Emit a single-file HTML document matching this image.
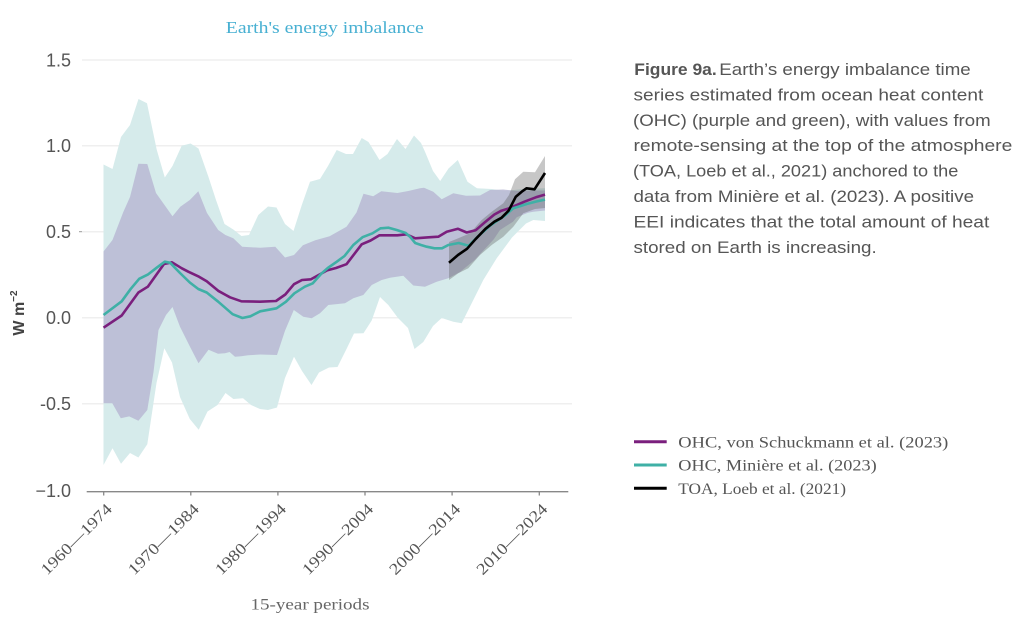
<!DOCTYPE html>
<html><head><meta charset="utf-8"><style>
html,body{margin:0;padding:0;background:#fff;}
svg{display:block;}
</style></head><body>
<svg width="1024" height="626" viewBox="0 0 1024 626" xmlns="http://www.w3.org/2000/svg">
<rect width="1024" height="626" fill="#ffffff"/>
<!-- title -->
<text x="324.8" y="33" text-anchor="middle" font-family="Liberation Serif, serif" font-size="17" fill="#48b0d2" textLength="198" lengthAdjust="spacingAndGlyphs">Earth's energy imbalance</text>
<!-- gridlines -->
<g stroke="#efefef" stroke-width="1.5">
<line x1="82" y1="60" x2="572" y2="60"/>
<line x1="82" y1="145.7" x2="572" y2="145.7"/>
<line x1="82" y1="231.7" x2="572" y2="231.7"/>
<line x1="82" y1="317.7" x2="572" y2="317.7"/>
<line x1="82" y1="403.7" x2="572" y2="403.7"/>
</g>
<line x1="79" y1="231.7" x2="82" y2="231.7" stroke="#999" stroke-width="1"/>
<!-- y tick labels -->
<g font-family="Liberation Sans, sans-serif" font-size="18" fill="#555" text-anchor="end">
<text x="71" y="66.5">1.5</text>
<text x="71" y="152">1.0</text>
<text x="71" y="238">0.5</text>
<text x="71" y="324">0.0</text>
<text x="71" y="410">-0.5</text>
<text x="71" y="497">−1.0</text>
</g>
<!-- y axis title -->
<text transform="translate(24,313) rotate(-90)" text-anchor="middle" font-family="Liberation Sans, sans-serif" font-size="16" font-weight="bold" fill="#444">W m<tspan font-size="10" dy="-7">−2</tspan></text>
<!-- green band -->
<polygon fill="#d6ebeb" points="103.5,164.5 112.5,169 121,137 130,125 138.5,99 147,103.3 156.8,150 164.8,177.5 172.5,166 181.7,145.7 190.5,143.5 198.5,148.5 208.5,177 216,200 224.5,224 233.3,229.5 241.5,236 249,235 258.3,215 268,206.5 276.5,207.5 285,224 293.5,231 301.8,205 310,181.7 320,179 328,166 336.7,150 346,154 353,154 361.7,138 368.5,142 379.5,160 387.5,154 397,139 405.5,149 414,135.5 421,143 425,151.7 433,171 440.2,181 448.5,168.5 457.8,160 467.5,181.7 477,188.3 491.8,189 505,191 520.6,189.3 535.9,188.5 545,188.3 545,221 533.3,220 526,223.5 512,237.5 496.7,258.3 483.3,280 471.7,303.3 461.7,323.3 453.3,321.7 441.7,318 433,326 423.3,342 414.5,349 408,328 398,318 388.3,305 380,297 371.7,320.5 363.5,333.3 354,333.5 346.5,349 337.5,367 329,367.5 319,372.5 311.5,385 302,371 294,356.7 285,378 277,407.5 268,410 260,409 251,405 243,398.3 233.4,399 225.5,393 217.5,405 207.5,411.5 198.7,429.7 189.8,419 180,397 172,362.5 164.3,348.3 156.5,383 147.3,444.2 138.4,457.5 130,453 121,463.7 112.5,448.3 103.5,465"/>
<!-- purple band -->
<polygon fill="#b9b9d4" fill-opacity="0.85" points="103.5,251.5 112.5,240 123.3,212 130,197 138.4,163.7 147.3,164 156,193 172.5,216.3 180.3,206.7 189.8,200 198.3,191.3 207,213 218.2,230 225.4,235 233.3,238.3 242.2,246.7 260.2,247.8 275.3,246.7 285,257.5 294,255 302.9,245.2 315.3,240.3 329.6,236.3 346.5,226.7 356.5,212.5 363.5,193.7 373.2,196.3 381.3,191.2 397.4,193 408.3,191 420,188.3 424,187.8 433.3,191.7 441.7,199.3 453.3,193.3 466,195.8 480,195.5 490,190 503.3,189.5 516.7,191 533.3,190.5 545,190.5 545,210.5 533.3,211.7 528,212.7 516.7,217.3 513,221.7 500,230 493.8,239.3 474.6,260 460,272 448.3,278.3 436.7,281.7 425,286.7 413.3,285.5 403.3,275.7 390,277.7 381.7,280 371.7,285 363.3,295 353.3,298.3 345,303.3 328.3,305 320,313.3 311.7,318.3 303.3,316.7 293.8,310 285,330.8 277,355 260.2,354.5 248.3,355.3 241.1,356.3 235,356.7 229.6,352 225,353.3 218,353.8 208.5,349.7 198.5,363.3 190,346.7 180,326.7 172.5,307 166,315 158.5,330 153.5,372 147.3,410 138.4,420.8 129.2,416.4 120.8,418.3 112.3,403.3 103.5,403.3"/>
<!-- gray TOA band -->
<polygon fill="#555" fill-opacity="0.33" points="449,242 458.3,238.3 470,233.3 481.7,220 491.7,211.7 503.3,203.3 509,195 515,179.3 523.3,171.7 535,172.2 545,156 545,208 535,209 523.3,213.3 513.3,226.7 503.3,236.7 491.7,245 480,255 468.3,268.3 458.3,273.3 449,280"/>
<!-- purple line -->
<polyline fill="none" stroke="#7a1f7d" stroke-width="2.6" stroke-linejoin="round" points="103.5,327.7 121.7,315.5 138.4,292.5 147.8,286.7 164,264 172,262.3 181.8,268.3 188.3,271.7 199,276.7 206.7,281.3 218.2,290.8 225.8,295 230,297.3 241.4,301.3 260,301.7 276,301 285.3,294.5 294,284.2 302,280 311,279.3 327,270.4 336,268 346.5,264.2 361.7,244.3 370.6,240.5 379.5,235.3 397.4,235.3 406.3,234.3 415.2,238.3 428.7,237.3 438.3,236.7 446.7,231.7 458,228.8 466.7,232.5 475.6,230.3 484.6,222.5 494.4,214.5 501.4,210.7 510,208 524.4,201.7 535.9,197.3 545,194.6"/>
<!-- green line -->
<polyline fill="none" stroke="#3fb0a6" stroke-width="2.6" stroke-linejoin="round" points="103.5,315 121.7,301.3 130.8,288.8 139.2,278.8 147.8,274.6 156.7,267.7 164.8,261.7 170.2,262.8 180,273 189.8,282.5 198.3,289 206.7,292.5 218.2,301.7 232.6,314.2 242.4,318 250.4,316.3 260.2,311.3 276.5,308.3 286,301.7 294.4,293.3 304.8,286.7 312.8,283.3 321.7,273.3 327.8,268 336.8,261.7 344.5,256 353.3,245 362.5,237.2 372.5,233.3 380.5,228.3 388.6,227.7 396.7,230 405.4,232.8 410,236.7 415.2,243 421,245 426.7,246.7 434.5,248.3 442,248.3 448.3,245 458.8,243 468.6,245.8 479.2,235.3 490.8,225 504.3,216 513.3,208.3 520.6,206 526.7,204 536.3,201.5 545,199.6"/>
<!-- black line -->
<polyline fill="none" stroke="#000" stroke-width="2.6" stroke-linejoin="round" points="449,262.7 458,255 467,248.8 475.5,239.2 485.5,228.8 494.4,221.7 501.5,217.8 508.6,210.7 515.8,196.7 521.7,191.7 526.5,188.3 534.5,189.3 545,173"/>
<!-- x axis -->
<line x1="86.7" y1="491.7" x2="568.3" y2="491.7" stroke="#888" stroke-width="1.3"/>
<g stroke="#888" stroke-width="1.3">
<line x1="103.7" y1="491.7" x2="103.7" y2="495.5"/>
<line x1="190.8" y1="491.7" x2="190.8" y2="495.5"/>
<line x1="277.9" y1="491.7" x2="277.9" y2="495.5"/>
<line x1="365" y1="491.7" x2="365" y2="495.5"/>
<line x1="452.1" y1="491.7" x2="452.1" y2="495.5"/>
<line x1="539.3" y1="491.7" x2="539.3" y2="495.5"/>
</g>
<g font-family="Liberation Serif, serif" font-size="16" fill="#555" text-anchor="end">
<text transform="translate(112.9,510) rotate(-45)" textLength="93" lengthAdjust="spacingAndGlyphs">1960—1974</text>
<text transform="translate(200,510) rotate(-45)" textLength="93" lengthAdjust="spacingAndGlyphs">1970—1984</text>
<text transform="translate(287.1,510) rotate(-45)" textLength="93" lengthAdjust="spacingAndGlyphs">1980—1994</text>
<text transform="translate(374.2,510) rotate(-45)" textLength="93" lengthAdjust="spacingAndGlyphs">1990—2004</text>
<text transform="translate(461.3,510) rotate(-45)" textLength="93" lengthAdjust="spacingAndGlyphs">2000—2014</text>
<text transform="translate(548.5,510) rotate(-45)" textLength="93" lengthAdjust="spacingAndGlyphs">2010—2024</text>
</g>
<text x="310" y="609.5" text-anchor="middle" font-family="Liberation Serif, serif" font-size="16" fill="#666" textLength="119" lengthAdjust="spacingAndGlyphs">15-year periods</text>
<!-- caption -->
<g font-family="Liberation Sans, sans-serif" font-size="17" fill="#555">
<text x="634.3" y="75" font-weight="bold" textLength="82.4" lengthAdjust="spacingAndGlyphs">Figure 9a.</text>
<text x="719.3" y="75" textLength="251.4" lengthAdjust="spacingAndGlyphs">Earth’s energy imbalance time</text>
<text x="633.5" y="100.4" textLength="349.8" lengthAdjust="spacingAndGlyphs">series estimated from ocean heat content</text>
<text x="633" y="125.8" textLength="357.7" lengthAdjust="spacingAndGlyphs">(OHC) (purple and green), with values from</text>
<text x="633.5" y="151.2" textLength="378.8" lengthAdjust="spacingAndGlyphs">remote-sensing at the top of the atmosphere</text>
<text x="633" y="176.6" textLength="325.3" lengthAdjust="spacingAndGlyphs">(TOA, Loeb et al., 2021) anchored to the</text>
<text x="633.5" y="202" textLength="340.5" lengthAdjust="spacingAndGlyphs">data from Minière et al. (2023). A positive</text>
<text x="633.5" y="227.4" textLength="355.8" lengthAdjust="spacingAndGlyphs">EEI indicates that the total amount of heat</text>
<text x="633.5" y="252.8" textLength="243.2" lengthAdjust="spacingAndGlyphs">stored on Earth is increasing.</text>
</g>
<!-- legend -->
<line x1="634" y1="441.7" x2="666.7" y2="441.7" stroke="#7a1f7d" stroke-width="3"/>
<line x1="634" y1="465" x2="666.7" y2="465" stroke="#3fb0a6" stroke-width="3"/>
<line x1="634" y1="488.3" x2="666.7" y2="488.3" stroke="#000" stroke-width="3"/>
<g font-family="Liberation Serif, serif" font-size="16" fill="#555">
<text x="678.3" y="447.3" textLength="270" lengthAdjust="spacingAndGlyphs">OHC, von Schuckmann et al. (2023)</text>
<text x="678.3" y="470.6" textLength="198.4" lengthAdjust="spacingAndGlyphs">OHC, Minière et al. (2023)</text>
<text x="678.3" y="493.9" textLength="167.7" lengthAdjust="spacingAndGlyphs">TOA, Loeb et al. (2021)</text>
</g>
</svg>
</body></html>
